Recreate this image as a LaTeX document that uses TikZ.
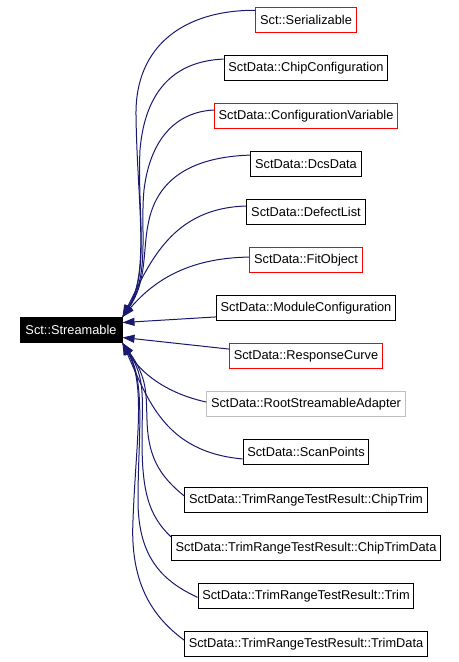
\documentclass[tikz,border=0pt]{standalone}
\usepackage{fontspec}
\setmainfont{Liberation Sans}
\usepackage{xcolor}
\usetikzlibrary{arrows.meta}

\definecolor{edgeblue}{RGB}{25,25,112}
\definecolor{lightgrayline}{RGB}{191,191,191}

\tikzset{
  cls/.style={draw=black, line width=0.75pt, rectangle, minimum height=18.75pt,
    inner xsep=3.2pt, inner ysep=0pt, font=\fontsize{9.6}{11}\selectfont},
  clsred/.style={cls, draw=red},
  clsgray/.style={cls, draw=lightgrayline},
  base/.style={cls, fill=black, text=white, minimum width=76.5pt},
  edge/.style={draw=edgeblue, line width=0.75pt, -{Triangle[length=9pt,width=6pt]}}
}

\begin{document}
\begin{tikzpicture}[x=0.75pt,y=-0.75pt]
\useasboundingbox (0,0) rectangle (459,662);

\node[base] (st) at (71,330) {Sct::Streamable};

\node[clsred]  (ser) at (306,20)  {Sct::Serializable};
\node[cls]     (chc) at (306,68)  {SctData::ChipConfiguration};
\node[clsred]  (cfv) at (306,116) {SctData::ConfigurationVariable};
\node[cls]     (dcs) at (306,164) {SctData::DcsData};
\node[cls]     (dfl) at (306,212) {SctData::DefectList};
\node[clsred]  (fit) at (306,260) {SctData::FitObject};
\node[cls]     (mod) at (306,308) {SctData::ModuleConfiguration};
\node[clsred]  (rsp) at (306,356) {SctData::ResponseCurve};
\node[clsgray] (rsa) at (306,404) {SctData::RootStreamableAdapter};
\node[cls]     (scn) at (306,452) {SctData::ScanPoints};
\node[cls]     (ctr) at (306,500) {SctData::TrimRangeTestResult::ChipTrim};
\node[cls]     (ctd) at (306,548) {SctData::TrimRangeTestResult::ChipTrimData};
\node[cls]     (trm) at (306,596) {SctData::TrimRangeTestResult::Trim};
\node[cls]     (tdt) at (306,644) {SctData::TrimRangeTestResult::TrimData};

\coordinate (tA) at (st.north east);
\coordinate (tC) at ([yshift=5.6pt]st.east);
\coordinate (tD) at ([yshift=-5.6pt]st.east);
\coordinate (tB) at (st.south east);

% upper bundle
\draw[edge] ([yshift=7.3pt]ser.west) .. controls (185,10) and (135,45) .. (136,115)
  .. controls (137,200) and (150,272) .. (tA);
\draw[edge] ([yshift=6.7pt]chc.west) .. controls (175,61) and (145,90) .. (140,150)
  .. controls (137,210) and (150,272) .. (tA);
\draw[edge] ([yshift=4.5pt]cfv.west) .. controls (175,112) and (150,140) .. (144,190)
  .. controls (140,230) and (150,275) .. (tA);
\draw[edge] ([yshift=6.7pt]dcs.west) .. controls (190,157) and (158,180) .. (149,220)
  .. controls (142,250) and (148,280) .. (tA);
\draw[edge] ([yshift=4.5pt]dfl.west) .. controls (172,208) and (150,262) .. (tA);
\draw[edge] ([yshift=2.2pt]fit.west) .. controls (185,258) and (152,283) .. (tA);

% middle
\draw[edge] ([yshift=-6.7pt]mod.west) -- (tC);
\draw[edge] ([yshift=5.2pt]rsp.west) -- (tD);

% lower bundle
\draw[edge] ([yshift=1.5pt]rsa.west) .. controls (165,393) and (140,372) .. (tB);
\draw[edge] ([yshift=-5.2pt]scn.west) .. controls (165,452) and (148,400) .. (tB);
\draw[edge] ([yshift=3pt]ctr.west) .. controls (158,475) and (148,455) .. (147,420)
  .. controls (146,395) and (148,378) .. (tB);
\draw[edge] ([yshift=8.5pt]ctd.west) .. controls (148,515) and (142,490) .. (142,440)
  .. controls (142,400) and (146,378) .. (tB);
\draw[edge] ([yshift=-1pt]trm.west) .. controls (160,580) and (138,555) .. (138,500)
  .. controls (138,440) and (146,382) .. (tB);
\draw[edge] ([yshift=3pt]tdt.west) .. controls (150,615) and (130,580) .. (133,520)
  .. controls (136,440) and (146,385) .. (tB);
\end{tikzpicture}
\end{document}
